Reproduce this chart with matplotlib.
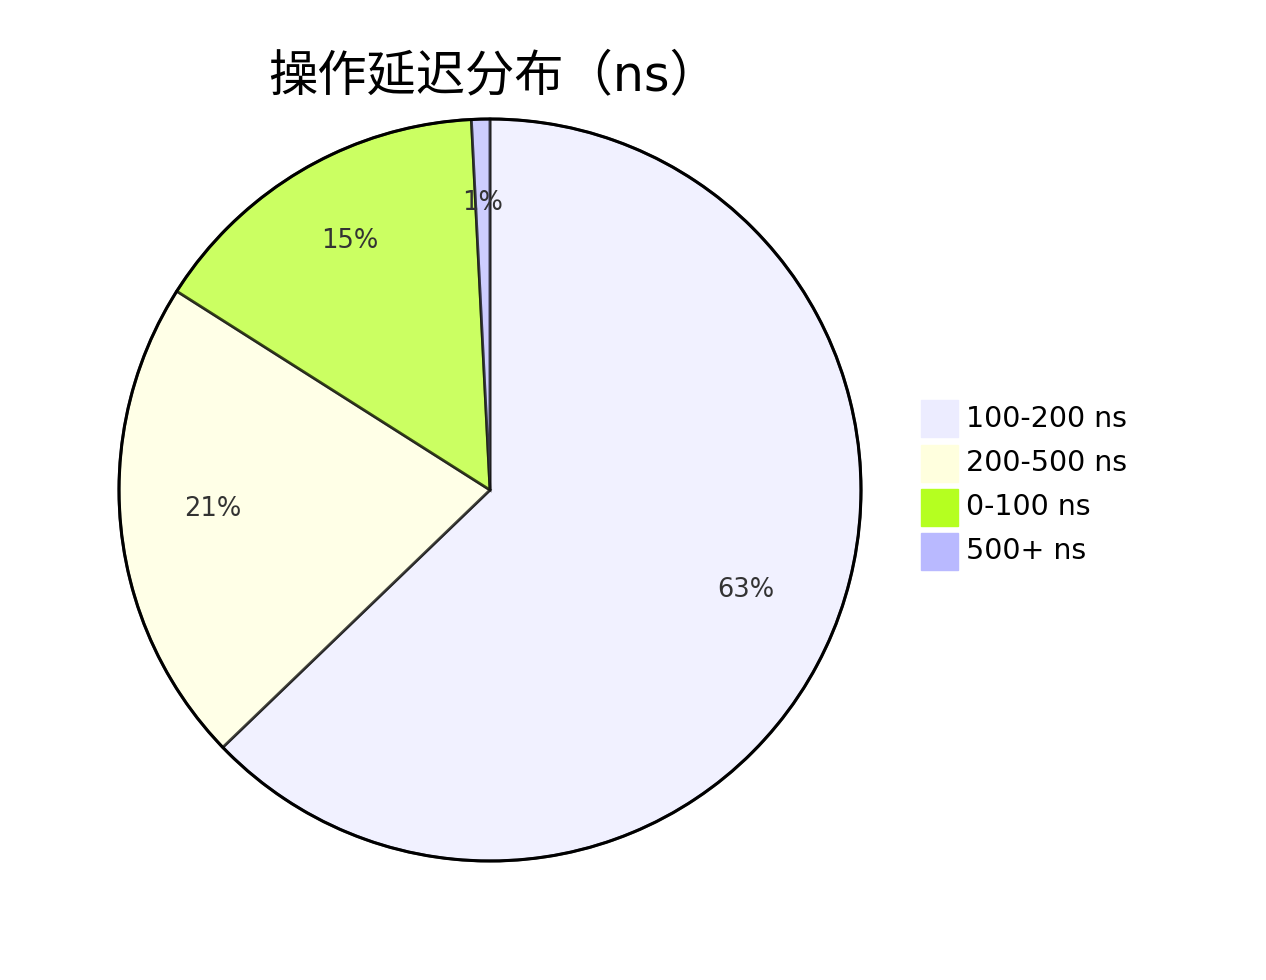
import matplotlib
matplotlib.use("Agg")
import matplotlib.pyplot as plt
from matplotlib.patches import Rectangle, Circle
from matplotlib.transforms import offset_copy

plt.rcParams['font.family'] = ['DejaVu Sans', 'Noto Sans CJK SC']

title = "操作延迟分布（ns）"
labels = ["100-200 ns", "200-500 ns", "0-100 ns", "500+ ns"]
values = [62.8, 21.2, 15.2, 0.8]
colors = ["#ECECFF", "#FFFFDE", "#B5FF20", "#B9B9FF"]

W, H = 1266, 980
fig = plt.figure(figsize=(W / 100, H / 100), dpi=100)
fig.patch.set_facecolor("white")

cx, cy, r = 490, 490, 371
ax = fig.add_axes([(cx - r) / W, (H - cy - r) / H, 2 * r / W, 2 * r / H])
wedges, texts, autotexts = ax.pie(
    values, colors=colors, startangle=90, counterclock=False,
    autopct="%.0f%%", pctdistance=0.75, radius=1,
    wedgeprops=dict(edgecolor="black", linewidth=2.0, alpha=0.7),
    textprops=dict(fontsize=18.5, color="#333333"),
)
for w in wedges:
    w.set_edgecolor((0.05, 0.05, 0.05, 1))
    w.set_clip_on(False)
for t in autotexts:
    t.set_transform(offset_copy(ax.transData, fig=fig, x=0, y=9, units="dots"))
circ = Circle((0, 0), 1, fill=False, edgecolor="black", linewidth=2.2)
circ.set_clip_on(False)
ax.add_patch(circ)
ax.set_xlim(-1, 1)
ax.set_ylim(-1, 1)
ax.set_aspect("equal")
ax.axis("off")

fig.text(268 / W, 1 - 76 / H, title, ha="left", va="center", fontsize=35.5, color="black")

# legend
lx, ly0, sq, gap = 921, 419, 37, 44
for i, (lab, col) in enumerate(zip(labels, colors)):
    yc = ly0 + i * gap
    fig.patches.append(Rectangle((lx / W, 1 - (yc + sq / 2) / H), sq / W, sq / H,
                                 transform=fig.transFigure, facecolor=col, edgecolor=col))
    fig.text(966 / W, 1 - yc / H, lab, ha="left", va="center", fontsize=20.5, color="black")

fig.savefig("out.png", dpi=100)
